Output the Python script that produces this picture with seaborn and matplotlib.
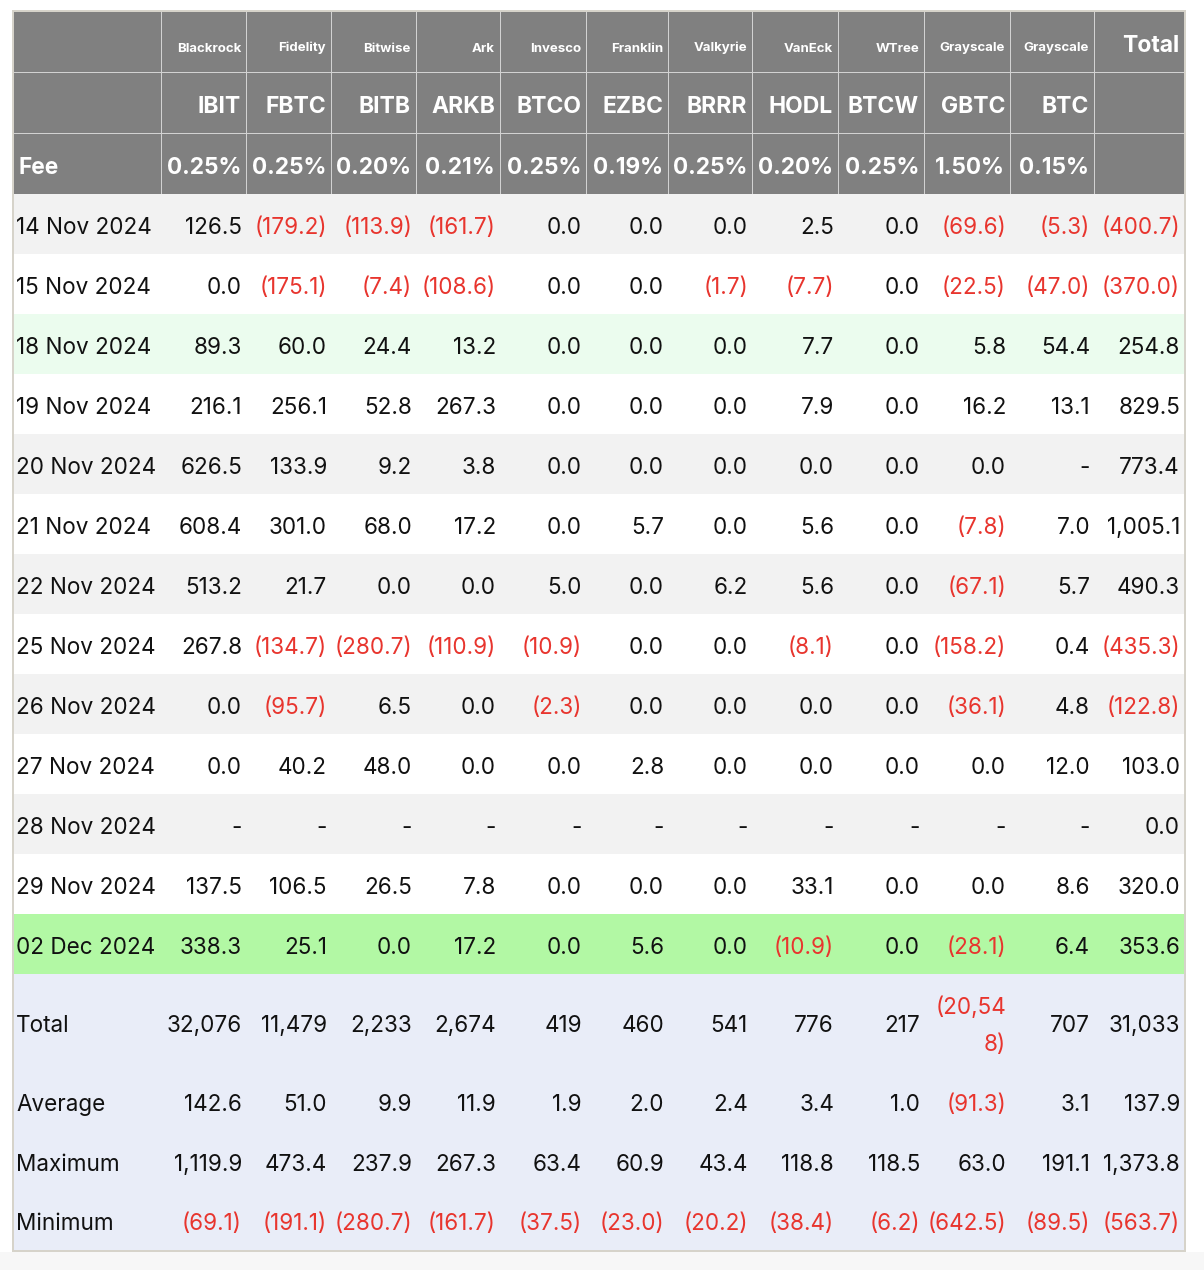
import numpy as np
import matplotlib
matplotlib.use("Agg")
import matplotlib.pyplot as plt
from matplotlib.colors import ListedColormap
import seaborn as sns

# ---- data -------------------------------------------------------------
issuers = ["Blackrock", "Fidelity", "Bitwise", "Ark", "Invesco", "Franklin",
           "Valkyrie", "VanEck", "WTree", "Grayscale", "Grayscale"]
tickers = ["IBIT", "FBTC", "BITB", "ARKB", "BTCO", "EZBC",
           "BRRR", "HODL", "BTCW", "GBTC", "BTC"]
fees = ["0.25%", "0.25%", "0.20%", "0.21%", "0.25%", "0.19%",
        "0.25%", "0.20%", "0.25%", "1.50%", "0.15%"]

dates = ["14 Nov 2024", "15 Nov 2024", "18 Nov 2024", "19 Nov 2024",
         "20 Nov 2024", "21 Nov 2024", "22 Nov 2024", "25 Nov 2024",
         "26 Nov 2024", "27 Nov 2024", "28 Nov 2024", "29 Nov 2024",
         "02 Dec 2024"]

nan = np.nan
# daily flows (US$m) per fund, same order as tickers
flows = [
    [126.5, -179.2, -113.9, -161.7, 0.0, 0.0, 0.0, 2.5, 0.0, -69.6, -5.3],
    [0.0, -175.1, -7.4, -108.6, 0.0, 0.0, -1.7, -7.7, 0.0, -22.5, -47.0],
    [89.3, 60.0, 24.4, 13.2, 0.0, 0.0, 0.0, 7.7, 0.0, 5.8, 54.4],
    [216.1, 256.1, 52.8, 267.3, 0.0, 0.0, 0.0, 7.9, 0.0, 16.2, 13.1],
    [626.5, 133.9, 9.2, 3.8, 0.0, 0.0, 0.0, 0.0, 0.0, 0.0, nan],
    [608.4, 301.0, 68.0, 17.2, 0.0, 5.7, 0.0, 5.6, 0.0, -7.8, 7.0],
    [513.2, 21.7, 0.0, 0.0, 5.0, 0.0, 6.2, 5.6, 0.0, -67.1, 5.7],
    [267.8, -134.7, -280.7, -110.9, -10.9, 0.0, 0.0, -8.1, 0.0, -158.2, 0.4],
    [0.0, -95.7, 6.5, 0.0, -2.3, 0.0, 0.0, 0.0, 0.0, -36.1, 4.8],
    [0.0, 40.2, 48.0, 0.0, 0.0, 2.8, 0.0, 0.0, 0.0, 0.0, 12.0],
    [nan, nan, nan, nan, nan, nan, nan, nan, nan, nan, nan],
    [137.5, 106.5, 26.5, 7.8, 0.0, 0.0, 0.0, 33.1, 0.0, 0.0, 8.6],
    [338.3, 25.1, 0.0, 17.2, 0.0, 5.6, 0.0, -10.9, 0.0, -28.1, 6.4],
]
daily_total = [-400.7, -370.0, 254.8, 829.5, 773.4, 1005.1, 490.3,
               -435.3, -122.8, 103.0, 0.0, 320.0, 353.6]

summary_labels = ["Total", "Average", "Maximum", "Minimum"]
summary_total = [32076, 11479, 2233, 2674, 419, 460, 541, 776, 217, -20548, 707, 31033]
summary_avg = [142.6, 51.0, 9.9, 11.9, 1.9, 2.0, 2.4, 3.4, 1.0, -91.3, 3.1, 137.9]
summary_max = [1119.9, 473.4, 237.9, 267.3, 63.4, 60.9, 43.4, 118.8, 118.5, 63.0, 191.1, 1373.8]
summary_min = [-69.1, -191.1, -280.7, -161.7, -37.5, -23.0, -20.2, -38.4, -6.2, -642.5, -89.5, -563.7]

highlight = {"18 Nov 2024": "soft_green", "02 Dec 2024": "green"}

# ---- layout (pixels) --------------------------------------------------
W, H = 1204, 1270
col_edges = [14, 161, 246, 331, 416, 500, 586, 668, 752, 838, 924, 1010, 1094, 1184]
header_edges = [12, 72, 133, 194]
row_h = 60
summary_heights = [98, 60, 60, 58]

palette = {
    "page": "#ffffff", "border": "#d6d3ca", "header": "#808080",
    "grid": "#d2d2d2", "stripe": "#f2f2f2", "plain": "#ffffff",
    "soft_green": "#ebfcee", "green": "#b2f8a4", "summary": "#e9edf8",
    "below": "#f7f7f7",
}
names = list(palette)
code = {n: i for i, n in enumerate(names)}

x0, x1 = col_edges[0], col_edges[-1]
body_top = header_edges[-1]
summary_top = body_top + row_h * len(dates)

bg = np.full((H, W), code["page"])
bg[1252:, :] = code["below"]
bg[10:1252, 12:1186] = code["border"]
bg[header_edges[0]:body_top, x0:x1] = code["header"]
for y in header_edges[1:-1]:
    bg[y, x0:x1] = code["grid"]
for x in col_edges[1:-1]:
    bg[header_edges[0]:body_top, x] = code["grid"]
for i, d in enumerate(dates):
    top = body_top + i * row_h
    fill = highlight.get(d, "stripe" if i % 2 == 0 else "plain")
    bg[top:top + row_h, x0:x1] = code[fill]
bg[summary_top:summary_top + sum(summary_heights), x0:x1] = code["summary"]

# ---- drawing ----------------------------------------------------------
sns.set_theme(style="white")
plt.rcParams["font.family"] = ["Inter", "DejaVu Sans"]

fig = plt.figure(figsize=(W / 100, H / 100), dpi=100)
ax = fig.add_axes([0, 0, 1, 1])
sns.heatmap(bg, cmap=ListedColormap([palette[n] for n in names]),
            vmin=-0.5, vmax=len(names) - 0.5, cbar=False,
            xticklabels=False, yticklabels=False, ax=ax)
ax.set_xlim(0, W)
ax.set_ylim(H, 0)
ax.axis("off")

BLACK = "#111111"
RED = "#e8352e"
BODY = 16.2
PAD = 4


def fmt(v, decimals=1):
    if v is None or np.isnan(v):
        return "-"
    s = f"{abs(v):,.{decimals}f}"
    return f"({s})" if v < 0 else s


def cell(ci, baseline, v, decimals=1):
    s = fmt(v, decimals)
    color = RED if (not np.isnan(v) and v < 0) else BLACK
    x = col_edges[ci + 2] - PAD
    if len(s) > 7:
        # too wide for the column: wrap like the source table
        ax.text(x, baseline - 18.5, s[:6], ha="right", va="baseline",
                fontsize=BODY, color=color)
        ax.text(x, baseline + 18.5, s[6:], ha="right", va="baseline",
                fontsize=BODY, color=color)
    else:
        ax.text(x, baseline, s, ha="right", va="baseline",
                fontsize=BODY, color=color)


# header
for i in range(len(tickers)):
    xr = col_edges[i + 2] - 5
    ax.text(xr, 51.5, issuers[i], ha="right", va="baseline",
            fontsize=9.5, fontweight="bold", color="white")
    ax.text(xr, 113, tickers[i], ha="right", va="baseline",
            fontsize=16.5, fontweight="bold", color="white")
    ax.text(xr, 174, fees[i], ha="right", va="baseline",
            fontsize=16.3, fontweight="bold", color="white")
ax.text(col_edges[-1] - 5, 52, "Total", ha="right", va="baseline",
        fontsize=16.5, fontweight="bold", color="white")
ax.text(18, 174, "Fee", ha="left", va="baseline",
        fontsize=16.3, fontweight="bold", color="white")

# daily rows
for i, d in enumerate(dates):
    base = body_top + i * row_h + 40
    ax.text(16, base, d, ha="left", va="baseline", fontsize=BODY, color=BLACK)
    for j, v in enumerate(flows[i]):
        cell(j, base, v)
    cell(len(tickers), base, daily_total[i])

# summary rows
summary_rows = [summary_total, summary_avg, summary_max, summary_min]
top = summary_top
for k, label in enumerate(summary_labels):
    h = summary_heights[k]
    base = top + h / 2 + 9
    ax.text(16, base, label, ha="left", va="baseline", fontsize=BODY, color=BLACK)
    for j, v in enumerate(summary_rows[k]):
        cell(j, base, v, decimals=0 if k == 0 else 1)
    top += h

fig.savefig("out.png", dpi=100)
